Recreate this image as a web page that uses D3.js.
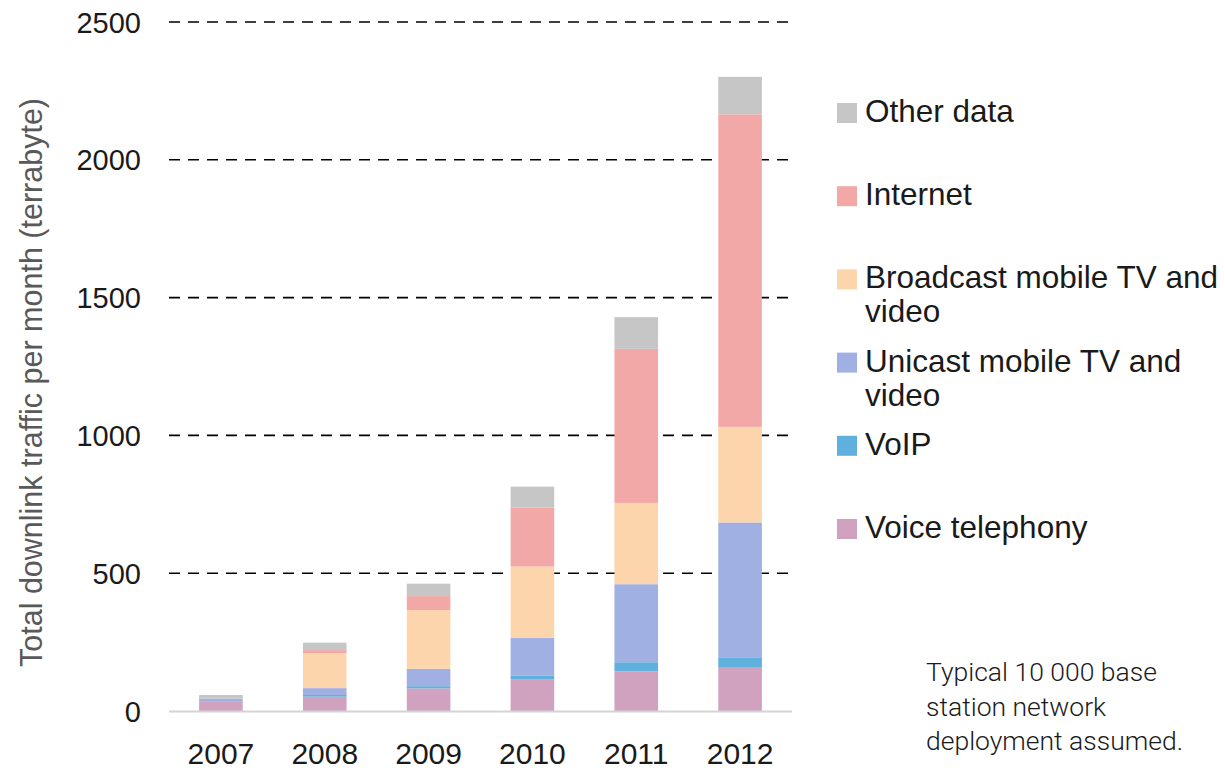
<!DOCTYPE html>
<html>
<head>
<meta charset="utf-8">
<script src="https://cdn.jsdelivr.net/npm/d3@7"></script>
<style>
  html, body { margin: 0; padding: 0; background: #fff; }
  svg { display: block; font-family: "Liberation Sans", Arial, sans-serif; }
</style>
</head>
<body>
<svg id="chart" width="1225" height="772"></svg>
<script>
const years = ["2007", "2008", "2009", "2010", "2011", "2012"];
const seriesNames = ["Voice telephony", "VoIP", "Unicast mobile TV and video", "Broadcast mobile TV and video", "Internet", "Other data"];
const voiceTelephony = [33, 52, 82, 114, 144, 157];
const voip          = [2, 6, 8, 15, 33, 38];
const unicastTV     = [10, 25, 63, 137, 283, 489];
const broadcastTV   = [0, 127, 213, 258, 295, 347];
const internet      = [0, 11, 51, 214, 559, 1134];
const otherData     = [13, 27, 45, 76, 115, 136];
const yTicks = [0, 500, 1000, 1500, 2000, 2500];
const colors = ["#d0a2c0", "#5fb0dc", "#a0b0e3", "#fdd5ac", "#f3a8a8", "#c6c6c6"];
const legendOrder = [
  { name: "Other data", lines: ["Other data"], idx: 5 },
  { name: "Internet", lines: ["Internet"], idx: 4 },
  { name: "Broadcast", lines: ["Broadcast mobile TV and", "video"], idx: 3 },
  { name: "Unicast", lines: ["Unicast mobile TV and", "video"], idx: 2 },
  { name: "VoIP", lines: ["VoIP"], idx: 1 },
  { name: "Voice", lines: ["Voice telephony"], idx: 0 }
];
const noteLines = ["Typical 10 000 base", "station network", "deployment assumed."];

const allSeries = [voiceTelephony, voip, unicastTV, broadcastTV, internet, otherData];
const rows = years.map((y, i) => {
  const r = { year: y };
  seriesNames.forEach((s, k) => r[s] = allSeries[k][i]);
  return r;
});

const svg = d3.select("#chart");
const x0 = 169, x1 = 792, yTop = 22, yBase = 711;

const x = d3.scaleBand().domain(years).range([x0, x1]).paddingInner(0.58).paddingOuter(0.29);
const y = d3.scaleLinear().domain([0, 2500]).range([yBase, yTop]);

// gridlines
svg.append("g").selectAll("line").data(yTicks.filter(d => d > 0)).join("line")
  .attr("x1", x0).attr("x2", 790)
  .attr("y1", d => y(d)).attr("y2", d => y(d))
  .attr("stroke", "#000").attr("stroke-width", 1.6)
  .attr("stroke-dasharray", "11,8");

// y axis labels
const yAxis = d3.axisLeft(y).tickValues(yTicks).tickFormat(d3.format("d")).tickSize(0).tickPadding(0);
const gy = svg.append("g").attr("transform", `translate(141,0)`).call(yAxis);
gy.select(".domain").remove();
gy.selectAll("text").attr("font-size", 29).attr("fill", "#1a1a1a")
  .attr("font-family", "Liberation Sans, Arial, sans-serif").attr("dy", "0.35em");

// stacked bars
const stack = d3.stack().keys(seriesNames);
const stacked = stack(rows);
svg.append("g").selectAll("g").data(stacked).join("g")
  .attr("fill", (d, i) => colors[i])
  .selectAll("rect").data(d => d).join("rect")
  .attr("x", d => x(d.data.year))
  .attr("width", x.bandwidth())
  .attr("y", d => y(d[1]))
  .attr("height", d => Math.max(0, y(d[0]) - y(d[1])));

// x axis
const xAxis = d3.axisBottom(x).tickSize(0).tickPadding(0);
const gx = svg.append("g").attr("transform", `translate(0,${yBase})`).call(xAxis);
gx.select(".domain").remove();
gx.selectAll("text").attr("font-size", 30).attr("fill", "#1a1a1a")
  .attr("font-family", "Liberation Sans, Arial, sans-serif").attr("dy", "0").attr("y", 53);
svg.append("line").attr("x1", x0).attr("x2", x1).attr("y1", yBase + 0.5).attr("y2", yBase + 0.5)
  .attr("stroke", "#d4d4d4").attr("stroke-width", 2);

// y axis title
svg.append("text")
  .attr("transform", `translate(42,${(yTop + yBase) / 2 + 16}) rotate(-90)`)
  .attr("text-anchor", "middle")
  .attr("font-size", 30.5)
  .attr("fill", "#595959")
  .text("Total downlink traffic per month (terrabyte)");

// legend
const legendTop = 113, legendStep = 83.2;
const lg = svg.append("g");
legendOrder.forEach((item, i) => {
  const cy = legendTop + i * legendStep;
  lg.append("rect").attr("x", 837).attr("y", cy - 10).attr("width", 20).attr("height", 20)
    .attr("fill", colors[item.idx]);
  item.lines.forEach((ln, j) => {
    lg.append("text").attr("x", 865).attr("y", cy + 9 + j * 34)
      .attr("font-size", 31.5).attr("fill", "#1a1a1a")
      .text(ln);
  });
});

// note
const ng = svg.append("g");
noteLines.forEach((ln, j) => {
  ng.append("text").attr("x", 926).attr("y", 681 + j * 34.5)
    .attr("font-size", 26.5).attr("fill", "#1a1a1a")
    .attr("font-family", "Roboto, Liberation Sans, sans-serif").attr("font-weight", 300)
    .text(ln);
});
</script>
</body>
</html>
